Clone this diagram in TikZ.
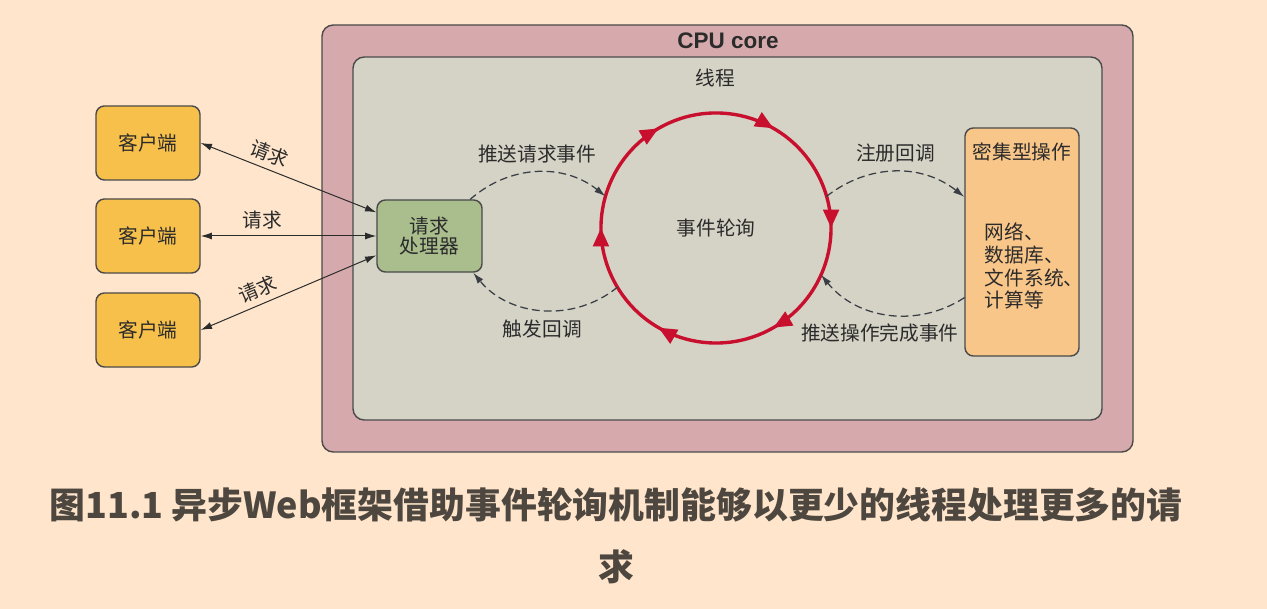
\documentclass[tikz,border=0pt]{standalone}
\usepackage{fontspec}
\setmainfont{Noto Sans CJK SC}
\newfontfamily\cpufont{Liberation Sans}
\usepackage{xcolor}
\usetikzlibrary{arrows.meta}
\usetikzlibrary{decorations.markings}

\definecolor{bgpeach}{HTML}{FEE5CB}
\definecolor{corefill}{HTML}{D6AAAC}
\definecolor{threadfill}{HTML}{D5D2C6}
\definecolor{clientfill}{HTML}{F7C04A}
\definecolor{handlerfill}{HTML}{A9BD8D}
\definecolor{opsfill}{HTML}{F9C68A}
\definecolor{loopred}{HTML}{C8102E}
\definecolor{boxline}{HTML}{4A4A4A}
\definecolor{inktext}{HTML}{2B2B2B}
\definecolor{dashgray}{HTML}{3A3F45}
\definecolor{captext}{HTML}{4D473F}

\begin{document}
\begin{tikzpicture}[line cap=round,line join=round,>={Latex[length=8pt,width=5pt]},x=0.025cm,y=0.025cm,
  lbl/.style={text=inktext,font=\fontsize{14}{16}\selectfont},
  box/.style={draw=boxline,line width=1pt,rounded corners=6pt,lbl},
  client/.style={box,fill=clientfill,minimum width=2.6cm,minimum height=1.85cm},
  req/.style={<->,line width=0.7pt,draw=inktext},
  cb/.style={->,dash pattern=on 5pt off 3.5pt,line width=0.9pt,draw=dashgray}]
\useasboundingbox (0,0) rectangle (1267,609);
\fill [bgpeach] (0,0) rectangle (1267,609);
% containers
\draw [box,fill=corefill,rounded corners=8pt] (322,157) rectangle (1133,584);
\draw [box,fill=threadfill,rounded corners=8pt] (353,189) rectangle (1102,552);
\node [lbl,font=\cpufont\fontsize{16}{18}\selectfont\bfseries] (corelabel) at (728,568) {CPU core};
\node [lbl] (threadlabel) at (715,531) {线程};
% clients and boxes
\node [client] (c1) at (148,466) {客户端};
\node [client] (c2) at (148,373) {客户端};
\node [client] (c3) at (148,279) {客户端};
\node [box,fill=handlerfill,minimum width=2.625cm,minimum height=1.8cm,align=center] (handler) at (429.5,373) {请求\\[-2pt]处理器};
\node [box,fill=opsfill,minimum width=2.85cm,minimum height=5.7cm] (ops) at (1022,367) {};
\node [lbl] (opstitle) at (1022,457) {密集型操作};
\node [lbl,anchor=west,align=left,font=\fontsize{14}{16.3}\selectfont] (opsbody) at (980,343) {网络、\\数据库、\\文件系统、\\计算等};
% event loop
\node [circle,minimum size=5.75cm,inner sep=0pt,outer sep=0pt,lbl] (loop) at (716,381) {事件轮询};
\draw [loopred,line width=2.4pt,postaction={decorate},
  decoration={markings,mark=between positions 1/12 and 1 step 1/6 with {\arrow{Triangle[length=13pt,width=11pt]}}}]
  (loop.30) arc[start angle=30,end angle=-330,radius=2.875cm];
% requests
\draw [req] (c1.east) -- (handler.156) node[pos=0.36,sloped,above=3pt,inner sep=1pt,lbl] {请求};
\draw [req] (c2.east) -- (handler.west) node[pos=0.35,above=1pt,lbl] {请求};
\draw [req] (c3.east) -- (handler.200) node[pos=0.36,sloped,above=3pt,inner sep=1pt,lbl] {请求};
% callbacks
\draw [cb] (handler.42) to[bend left=40] node[midway,above=3pt,lbl] {推送请求事件} (loop.164);
\draw [cb] (loop.211) to[bend left=45] node[midway,below=3pt,lbl] {触发回调} (handler.-40);
\draw [cb] (loop.16) to[bend left=38] node[midway,above=3pt,lbl] {注册回调} (ops.142);
\draw [cb] (ops.224) to[bend left=42] node[midway,below=3pt,xshift=-6pt,lbl] {推送操作完成事件} (loop.-24);
% caption
\node [text=captext,font=\fontsize{25.5}{44}\selectfont\bfseries,align=center] (caption) at (616,73)
  {图11.1 异步Web框架借助事件轮询机制能够以更少的线程处理更多的请\\求};
\end{tikzpicture}
\end{document}
